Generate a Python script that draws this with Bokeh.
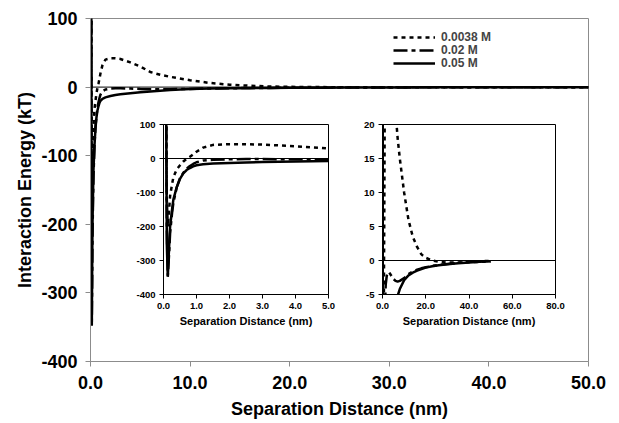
from bokeh.plotting import figure
from bokeh.models import (Range1d, Span, Legend, LegendItem, FixedTicker,
                          NumeralTickFormatter, Row, Column)
from bokeh.embed import file_html
from bokeh.resources import INLINE

# ---------------- data ----------------
distance_nm = [0.07, 0.1, 0.13, 0.17, 0.2, 0.26, 0.3, 0.4, 0.5, 0.6,
               0.7, 0.8, 0.9, 1.0, 1.2, 1.5, 2.0, 2.5, 3.0, 4.0,
               5.0, 6.0, 7.0, 8.0, 10.0, 12.0, 14.0, 16.0, 18.0, 20.0,
               23.0, 26.0, 30.0, 35.0, 40.0, 45.0, 50.0]
energy_0038M = [400, -120, -200, -150, -110, -75, -55, -32, -20, -9,
                -1, 5, 12, 20, 32, 40, 42, 42, 41, 36,
                30, 22, 18, 15, 10, 6, 3.5, 2, 0.9, 0.4,
                0, -0.2, -0.3, -0.3, -0.25, -0.2, -0.15]
energy_002M = [400, -200, -345, -280, -220, -160, -130, -85, -58, -42,
               -30, -22, -16, -11, -6, -3.5, -2.2, -1.8, -1.7, -2.2,
               -2.7, -3.0, -3.1, -3.0, -2.6, -2.0, -1.6, -1.35, -1.15, -1.0,
               -0.8, -0.65, -0.5, -0.35, -0.2, -0.1, -0.05]
energy_005M = [400, -250, -348, -260, -200, -150, -120, -85, -60, -44,
               -34, -28, -23, -20, -17, -15, -13, -11.5, -10.5, -8.8,
               -7.5, -6.3, -5.2, -4.2, -2.9, -2.2, -1.8, -1.5, -1.25, -1.05,
               -0.85, -0.7, -0.55, -0.4, -0.3, -0.2, -0.1]
series_labels = ["0.0038 M", "0.02 M", "0.05 M"]
series_values = [energy_0038M, energy_002M, energy_005M]

main_x_ticks = [0, 10, 20, 30, 40, 50]
main_y_ticks = [100, 0, -100, -200, -300, -400]
inset1_x_ticks = [0, 1, 2, 3, 4, 5]
inset1_y_ticks = [100, 0, -100, -200, -300, -400]
inset2_x_ticks = [0, 20, 40, 60, 80]
inset2_y_ticks = [20, 15, 10, 5, 0, -5]

# ---------------- styles ----------------
DASH = {"0.0038 M": "4 4", "0.02 M": "14 4 4 4", "0.05 M": "solid"}
LEGEND_Y = {"0.0038 M": 317, "0.02 M": 304, "0.05 M": 291}
FONT = "Liberation Sans"
GRAY = "#8c8c8c"

# ---------------- main figure ----------------
p = figure(width=607, height=421, x_range=Range1d(0, 50), y_range=Range1d(-400, 100),
           output_backend="svg", toolbar_location=None,
           min_border_left=90, min_border_right=19, min_border_top=18, min_border_bottom=0,
           x_axis_label="Separation Distance (nm)", y_axis_label="Interaction Energy (kT)")
p.xgrid.visible = False
p.ygrid.visible = False
p.outline_line_color = GRAY
p.background_fill_color = "white"
p.border_fill_color = "white"
for ax in p.axis:
    ax.axis_line_color = GRAY
    ax.major_tick_line_color = GRAY
    ax.major_tick_in = 0
    ax.major_tick_out = 5
    ax.minor_tick_line_color = None
    ax.major_label_text_font = FONT
    ax.major_label_text_font_style = "bold"
    ax.major_label_text_font_size = "18px"
    ax.major_label_text_color = "black"
    ax.axis_label_text_font = FONT
    ax.axis_label_text_font_style = "bold"
    ax.axis_label_text_font_size = "18px"
    ax.axis_label_text_color = "black"
p.xaxis.ticker = FixedTicker(ticks=main_x_ticks)
p.xaxis.formatter = NumeralTickFormatter(format="0.0")
p.yaxis.ticker = FixedTicker(ticks=main_y_ticks)
p.yaxis.formatter = NumeralTickFormatter(format="0")
p.xaxis.major_label_standoff = 9
p.xaxis.axis_label_standoff = 7
p.yaxis.major_label_standoff = 8
p.yaxis.axis_label_standoff = 3

p.add_layout(Span(location=0, dimension="width", line_color="black", line_width=1))

for lab, vals in zip(series_labels, series_values):
    r = p.line(distance_nm, vals, line_color="black", line_width=2.5, line_dash=DASH[lab])
    leg = Legend(items=[LegendItem(label=lab, renderers=[r])], location=(303, LEGEND_Y[lab]),
                 glyph_width=42, glyph_height=10, label_height=10, spacing=0,
                 padding=0, margin=0, label_standoff=6,
                 border_line_alpha=0, background_fill_alpha=0,
                 label_text_font=FONT, label_text_font_style="bold",
                 label_text_font_size="12px")
    p.add_layout(leg)


# ---------------- insets ----------------
def make_inset(xr, yr, xt, yt, xfmt, width, bl, br, bt, bb):
    f = figure(width=width, height=222, x_range=Range1d(*xr), y_range=Range1d(*yr),
               output_backend="svg", toolbar_location=None,
               min_border_left=bl, min_border_right=br, min_border_top=bt, min_border_bottom=bb,
               x_axis_label="Separation Distance (nm)")
    f.xgrid.visible = False
    f.ygrid.visible = False
    f.outline_line_color = "black"
    f.background_fill_color = "white"
    f.border_fill_color = "white"
    for ax in f.axis:
        ax.axis_line_color = "black"
        ax.major_tick_line_color = "black"
        ax.major_tick_in = 0
        ax.major_tick_out = 4
        ax.minor_tick_line_color = None
        ax.major_label_standoff = 4
        ax.major_label_text_font = FONT
        ax.major_label_text_font_style = "bold"
        ax.major_label_text_font_size = "9.5px"
        ax.major_label_text_color = "black"
        ax.axis_label_text_font = FONT
        ax.axis_label_text_font_style = "bold"
        ax.axis_label_text_font_size = "11px"
        ax.axis_label_text_color = "black"
        ax.axis_label_standoff = 3
    f.xaxis.ticker = FixedTicker(ticks=xt)
    f.xaxis.formatter = NumeralTickFormatter(format=xfmt)
    f.yaxis.ticker = FixedTicker(ticks=yt)
    f.yaxis.formatter = NumeralTickFormatter(format="0")
    f.add_layout(Span(location=0, dimension="width", line_color="black", line_width=1))
    for lab, vals in zip(series_labels, series_values):
        f.line(distance_nm, vals, line_color="black", line_width=2.5, line_dash=DASH[lab])
    return f


inset1 = make_inset((0, 5), (-400, 100), inset1_x_ticks, inset1_y_ticks, "0.0",
                    width=210, bl=28, br=15, bt=10, bb=41)
inset2 = make_inset((0, 80), (-5, 20), inset2_x_ticks, inset2_y_ticks, "0.0",
                    width=230, bl=39, br=18, bt=11, bb=41)

insets = Row(children=[inset1, inset2], margin=(-308, 0, 0, 133))
layout = Column(children=[p, insets])

open("out.html", "w").write(file_html(layout, INLINE))
